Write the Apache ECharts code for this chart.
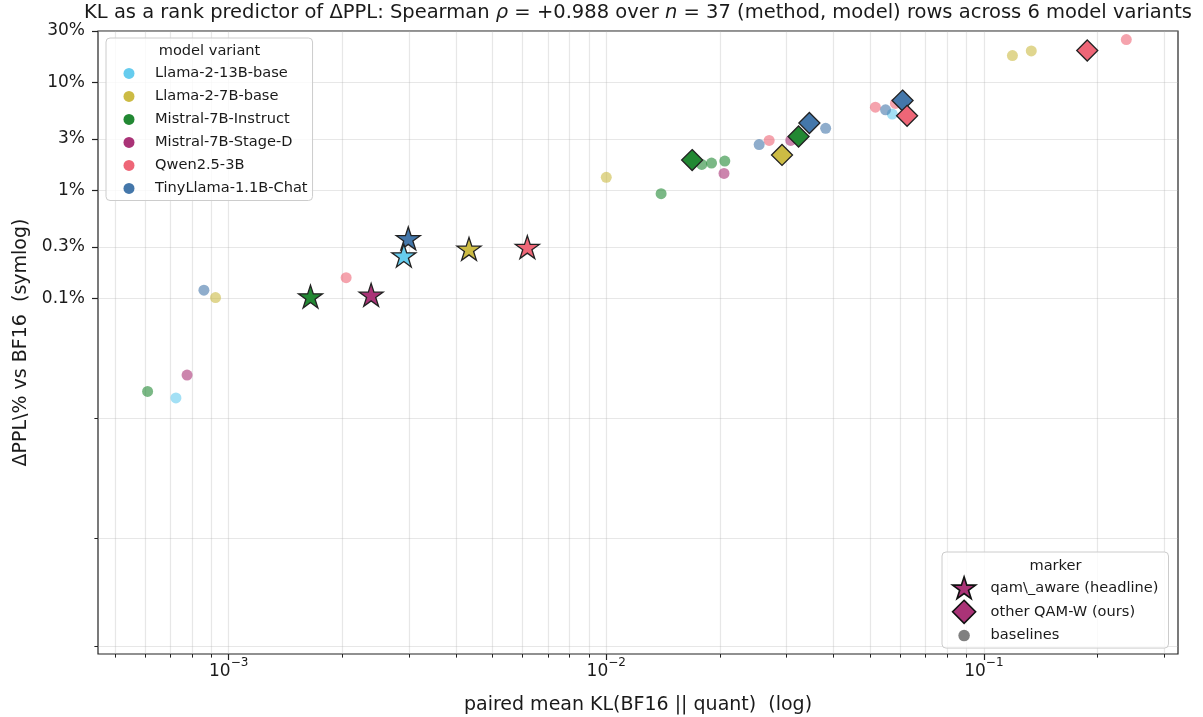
<!DOCTYPE html>
<html>
<head>
<meta charset="utf-8">
<title>KL vs ΔPPL</title>
<script src="https://cdn.jsdelivr.net/npm/echarts@6/dist/echarts.min.js"></script>
<style>
  html, body { margin: 0; padding: 0; background: #fff; }
  #chart { width: 1203px; height: 717px; }
</style>
</head>
<body>
<div id="chart"></div>
<script>
// model variants and their colours
const models = ['Llama-2-13B-base', 'Llama-2-7B-base', 'Mistral-7B-Instruct', 'Mistral-7B-Stage-D', 'Qwen2.5-3B', 'TinyLlama-1.1B-Chat'];
const colors = ['#66CCEE', '#CCBB44', '#228833', '#AA3377', '#EE6677', '#4477AA'];

// qam_aware (headline), one per model, same order as models
const starKL  = [0.00291, 0.00433, 0.001647, 0.002384, 0.00618, 0.00299];
const starPPL = [0.249, 0.287, 0.1037, 0.1076, 0.298, 0.359];

// other QAM-W (ours), model index per row
const diamondModel = [1, 2, 2, 4, 4, 5, 5];
const diamondKL  = [0.0292, 0.01688, 0.0323, 0.0626, 0.1878, 0.0345, 0.0609];
const diamondPPL = [2.13, 1.91, 3.16, 4.91, 19.8, 4.21, 6.8];

// baselines, model index per row
const baseModel = [0, 0, 1, 1, 1, 1, 2, 2, 2, 2, 2, 3, 3, 3, 4, 4, 4, 4, 4, 5, 5, 5, 5];
const baseKL  = [0.000725, 0.0572, 0.000923, 0.0100, 0.1190, 0.1335, 0.000610, 0.01397, 0.0179, 0.0190, 0.0206,
                 0.000776, 0.0205, 0.0308, 0.002047, 0.0270, 0.0516, 0.0583, 0.2383, 0.00086, 0.0254, 0.0381, 0.0549];
const basePPL = [0.0169, 5.1, 0.1015, 1.32, 17.75, 19.6, 0.0223, 0.932, 1.74, 1.79, 1.87,
                 0.0359, 1.435, 2.9, 0.155, 2.9, 5.9, 6.4, 25.0, 0.1188, 2.66, 3.76, 5.58];

// axis ticks
const yTicks = [0.1, 0.3, 1, 3, 10, 30];
const yTickLabels = ['0.1%', '0.3%', '1%', '3%', '10%', '30%'];
const yMinorTicks = [0, -0.1, -1];
const xTicks = [0.001, 0.01, 0.1];
const xMinorTicks = [0.0005, 0.0006, 0.0007, 0.0008, 0.0009,
                     0.002, 0.003, 0.004, 0.005, 0.006, 0.007, 0.008, 0.009,
                     0.02, 0.03, 0.04, 0.05, 0.06, 0.07, 0.08, 0.09, 0.2, 0.3];

const FONT = '"DejaVu Sans", sans-serif';
const TEXT = '#1a1a1a';
const GRIDLINE = 'rgba(176,176,176,0.3)';

// symlog like matplotlib (linthresh 0.1, linscale 1, base 10)
const LINTHRESH = 0.1;
const LINSCALE_ADJ = 1 / (1 - 1 / 10);
function symlog(v) {
  const a = Math.abs(v);
  if (a <= LINTHRESH) return v / LINTHRESH * LINSCALE_ADJ;
  return Math.sign(v) * (LINSCALE_ADJ + Math.log10(a / LINTHRESH));
}

const xMin = -3.346, xMax = -0.486;
const yMin = symlog(-1) - 0.075, yMax = symlog(30);

function starPath() {
  const pts = [];
  for (let i = 0; i < 10; i++) {
    const r = i % 2 === 0 ? 50 : 50 * 0.381966;
    const a = -Math.PI / 2 + i * Math.PI / 5;
    pts.push((50 + r * Math.cos(a)).toFixed(2) + ',' + (50 + r * Math.sin(a)).toFixed(2));
  }
  return 'path://M' + pts.join(' L') + ' Z';
}
const STAR = starPath();
const DIAMOND_ICON = 'path://M12,0 L24,12 L12,24 L0,12 Z';
const CIRCLE_ICON = 'path://M0,0 M24,24 M18,12 A6,6 0 1,1 6,12 A6,6 0 1,1 18,12 Z';

const drawOrder = [5, 0, 1, 2, 3, 4];
const series = [];

models.forEach((m, mi) => {
  const pts = [];
  baseModel.forEach((k, i) => { if (k === mi) pts.push([Math.log10(baseKL[i]), symlog(basePPL[i])]); });
  series.push({
    name: m, type: 'scatter', z: 2, symbol: 'circle', symbolSize: 11,
    itemStyle: { color: colors[mi], opacity: 0.6 },
    data: pts
  });
});
drawOrder.forEach(mi => {
  const pts = [];
  diamondModel.forEach((k, i) => { if (k === mi) pts.push([Math.log10(diamondKL[i]), symlog(diamondPPL[i])]); });
  if (!pts.length) return;
  series.push({
    name: models[mi], type: 'scatter', z: 3, symbol: 'diamond', symbolSize: 21,
    itemStyle: { color: colors[mi], opacity: 1, borderColor: '#222', borderWidth: 1.3 },
    data: pts
  });
});
drawOrder.forEach(mi => {
  series.push({
    name: models[mi], type: 'scatter', z: 4, symbol: STAR, symbolSize: 24, symbolKeepAspect: true,
    itemStyle: { color: colors[mi], opacity: 1, borderColor: '#222', borderWidth: 1.3 },
    data: [[Math.log10(starKL[mi]), symlog(starPPL[mi])]]
  });
});
// marker legend entries
series.push({ name: 'qam\\_aware (headline)', type: 'scatter', data: [] });
series.push({ name: 'other QAM-W (ours)', type: 'scatter', data: [] });
series.push({ name: 'baselines', type: 'scatter', data: [] });

const chart = echarts.init(document.getElementById('chart'));
const option = {
  animation: false,
  backgroundColor: '#fff',
  grid: {
    left: 98, right: 25, top: 31, bottom: 63, outerBoundsMode: 'none',
    show: true, borderColor: '#222', borderWidth: 1.2, backgroundColor: 'transparent'
  },
  xAxis: [
    {
      type: 'value', position: 'bottom', min: xMin, max: xMax,
      axisLine: { show: false, onZero: false },
      axisTick: { show: true, length: 6, lineStyle: { color: '#222', width: 1.2 }, customValues: xTicks.map(Math.log10) },
      axisLabel: {
        show: true, margin: 3, customValues: xTicks.map(Math.log10),
        formatter: v => '{b|10}{s|\u2212' + Math.abs(Math.round(v)) + '}',
        rich: {
          b: { fontFamily: FONT, fontSize: 17, color: TEXT, lineHeight: 23, verticalAlign: 'bottom' },
          s: { fontFamily: FONT, fontSize: 12, color: TEXT, lineHeight: 23, verticalAlign: 'top' }
        }
      },
      splitLine: { show: true, lineStyle: { color: GRIDLINE, width: 1.2 } },
      name: 'paired mean KL(BF16 || quant)  (log)', nameLocation: 'middle', nameGap: 42,
      nameTextStyle: { fontFamily: FONT, fontSize: 19, color: TEXT }
    },
    {
      type: 'value', position: 'bottom', min: xMin, max: xMax,
      axisLine: { show: false, onZero: false },
      axisTick: { show: true, length: 3.6, lineStyle: { color: '#222', width: 1 }, customValues: xMinorTicks.map(Math.log10) },
      axisLabel: { show: false },
      splitLine: { show: true, lineStyle: { color: GRIDLINE, width: 1.2 } }
    }
  ],
  yAxis: [
    {
      type: 'value', position: 'left', min: yMin, max: yMax,
      axisLine: { show: false, onZero: false },
      axisTick: { show: true, length: 6, lineStyle: { color: '#222', width: 1.2 }, customValues: yTicks.map(symlog) },
      axisLabel: {
        show: true, margin: 13, customValues: yTicks.map(symlog),
        fontFamily: FONT, fontSize: 17, color: TEXT,
        formatter: v => {
          const idx = yTicks.findIndex(t => Math.abs(symlog(t) - v) < 1e-6);
          return idx >= 0 ? yTickLabels[idx] : '';
        }
      },
      splitLine: { show: true, lineStyle: { color: GRIDLINE, width: 1.2 } },
      name: 'ΔPPL\\% vs BF16  (symlog)', nameLocation: 'middle', nameGap: 66,
      nameTextStyle: { fontFamily: FONT, fontSize: 19, color: TEXT }
    },
    {
      type: 'value', position: 'left', min: yMin, max: yMax,
      axisLine: { show: false, onZero: false },
      axisTick: { show: true, length: 3.6, lineStyle: { color: '#222', width: 1 }, customValues: yMinorTicks.map(symlog) },
      axisLabel: { show: false },
      splitLine: { show: true, lineStyle: { color: GRIDLINE, width: 1.2 } }
    }
  ],
  legend: [
    {
      data: models.map((m, i) => ({ name: m, icon: 'circle', itemStyle: { color: colors[i], opacity: 1, borderWidth: 0 } })),
      orient: 'vertical', left: 106, top: 38, z: 10,
      itemWidth: 11, itemHeight: 11, itemGap: 8.0,
      padding: [27.9, 5, 4.6, 17.5],
      backgroundColor: 'rgba(255,255,255,0.8)', borderColor: '#cccccc', borderWidth: 1, borderRadius: 4,
      textStyle: { fontFamily: FONT, fontSize: 14.6, color: TEXT, padding: [0, 0, 0, 15.5] },
      selectedMode: false
    },
    {
      data: [
        { name: 'qam\\_aware (headline)', icon: STAR, itemStyle: { color: '#AA3377', opacity: 1, borderColor: '#111', borderWidth: 1.6 } },
        { name: 'other QAM-W (ours)', icon: DIAMOND_ICON, itemStyle: { color: '#AA3377', opacity: 1, borderColor: '#111', borderWidth: 1.6 } },
        { name: 'baselines', icon: CIRCLE_ICON, itemStyle: { color: '#808080', opacity: 1, borderWidth: 0 } }
      ],
      orient: 'vertical', left: 942, top: 552, z: 10,
      itemWidth: 23, itemHeight: 23, itemGap: 0,
      padding: [24, 10, 1, 9.8],
      backgroundColor: 'rgba(255,255,255,0.8)', borderColor: '#cccccc', borderWidth: 1, borderRadius: 4,
      textStyle: { fontFamily: FONT, fontSize: 14.6, color: TEXT, padding: [0, 0, 0, 10] },
      selectedMode: false
    }
  ],
  graphic: [
    {
      type: 'text', x: 638, y: 13, z: 20,
      style: {
        text: '{a|KL as a rank predictor of ΔPPL: Spearman }{i|ρ}{a| = +0.988 over }{i|n}{a| = 37 (method, model) rows across 6 model variants}',
        align: 'center', verticalAlign: 'middle',
        rich: {
          a: { fontFamily: FONT, fontSize: 19.5, fill: TEXT },
          i: { fontFamily: FONT, fontSize: 19.5, fontStyle: 'italic', fill: TEXT }
        }
      }
    },
    {
      type: 'text', x: 209.5, y: 51, z: 20,
      style: { text: 'model variant', font: '14.6px ' + FONT, fill: TEXT, align: 'center', verticalAlign: 'middle' }
    },
    {
      type: 'text', x: 1055.5, y: 566, z: 20,
      style: { text: 'marker', font: '14.6px ' + FONT, fill: TEXT, align: 'center', verticalAlign: 'middle' }
    }
  ],
  series: series
};
chart.setOption(option);
</script>
</body>
</html>
